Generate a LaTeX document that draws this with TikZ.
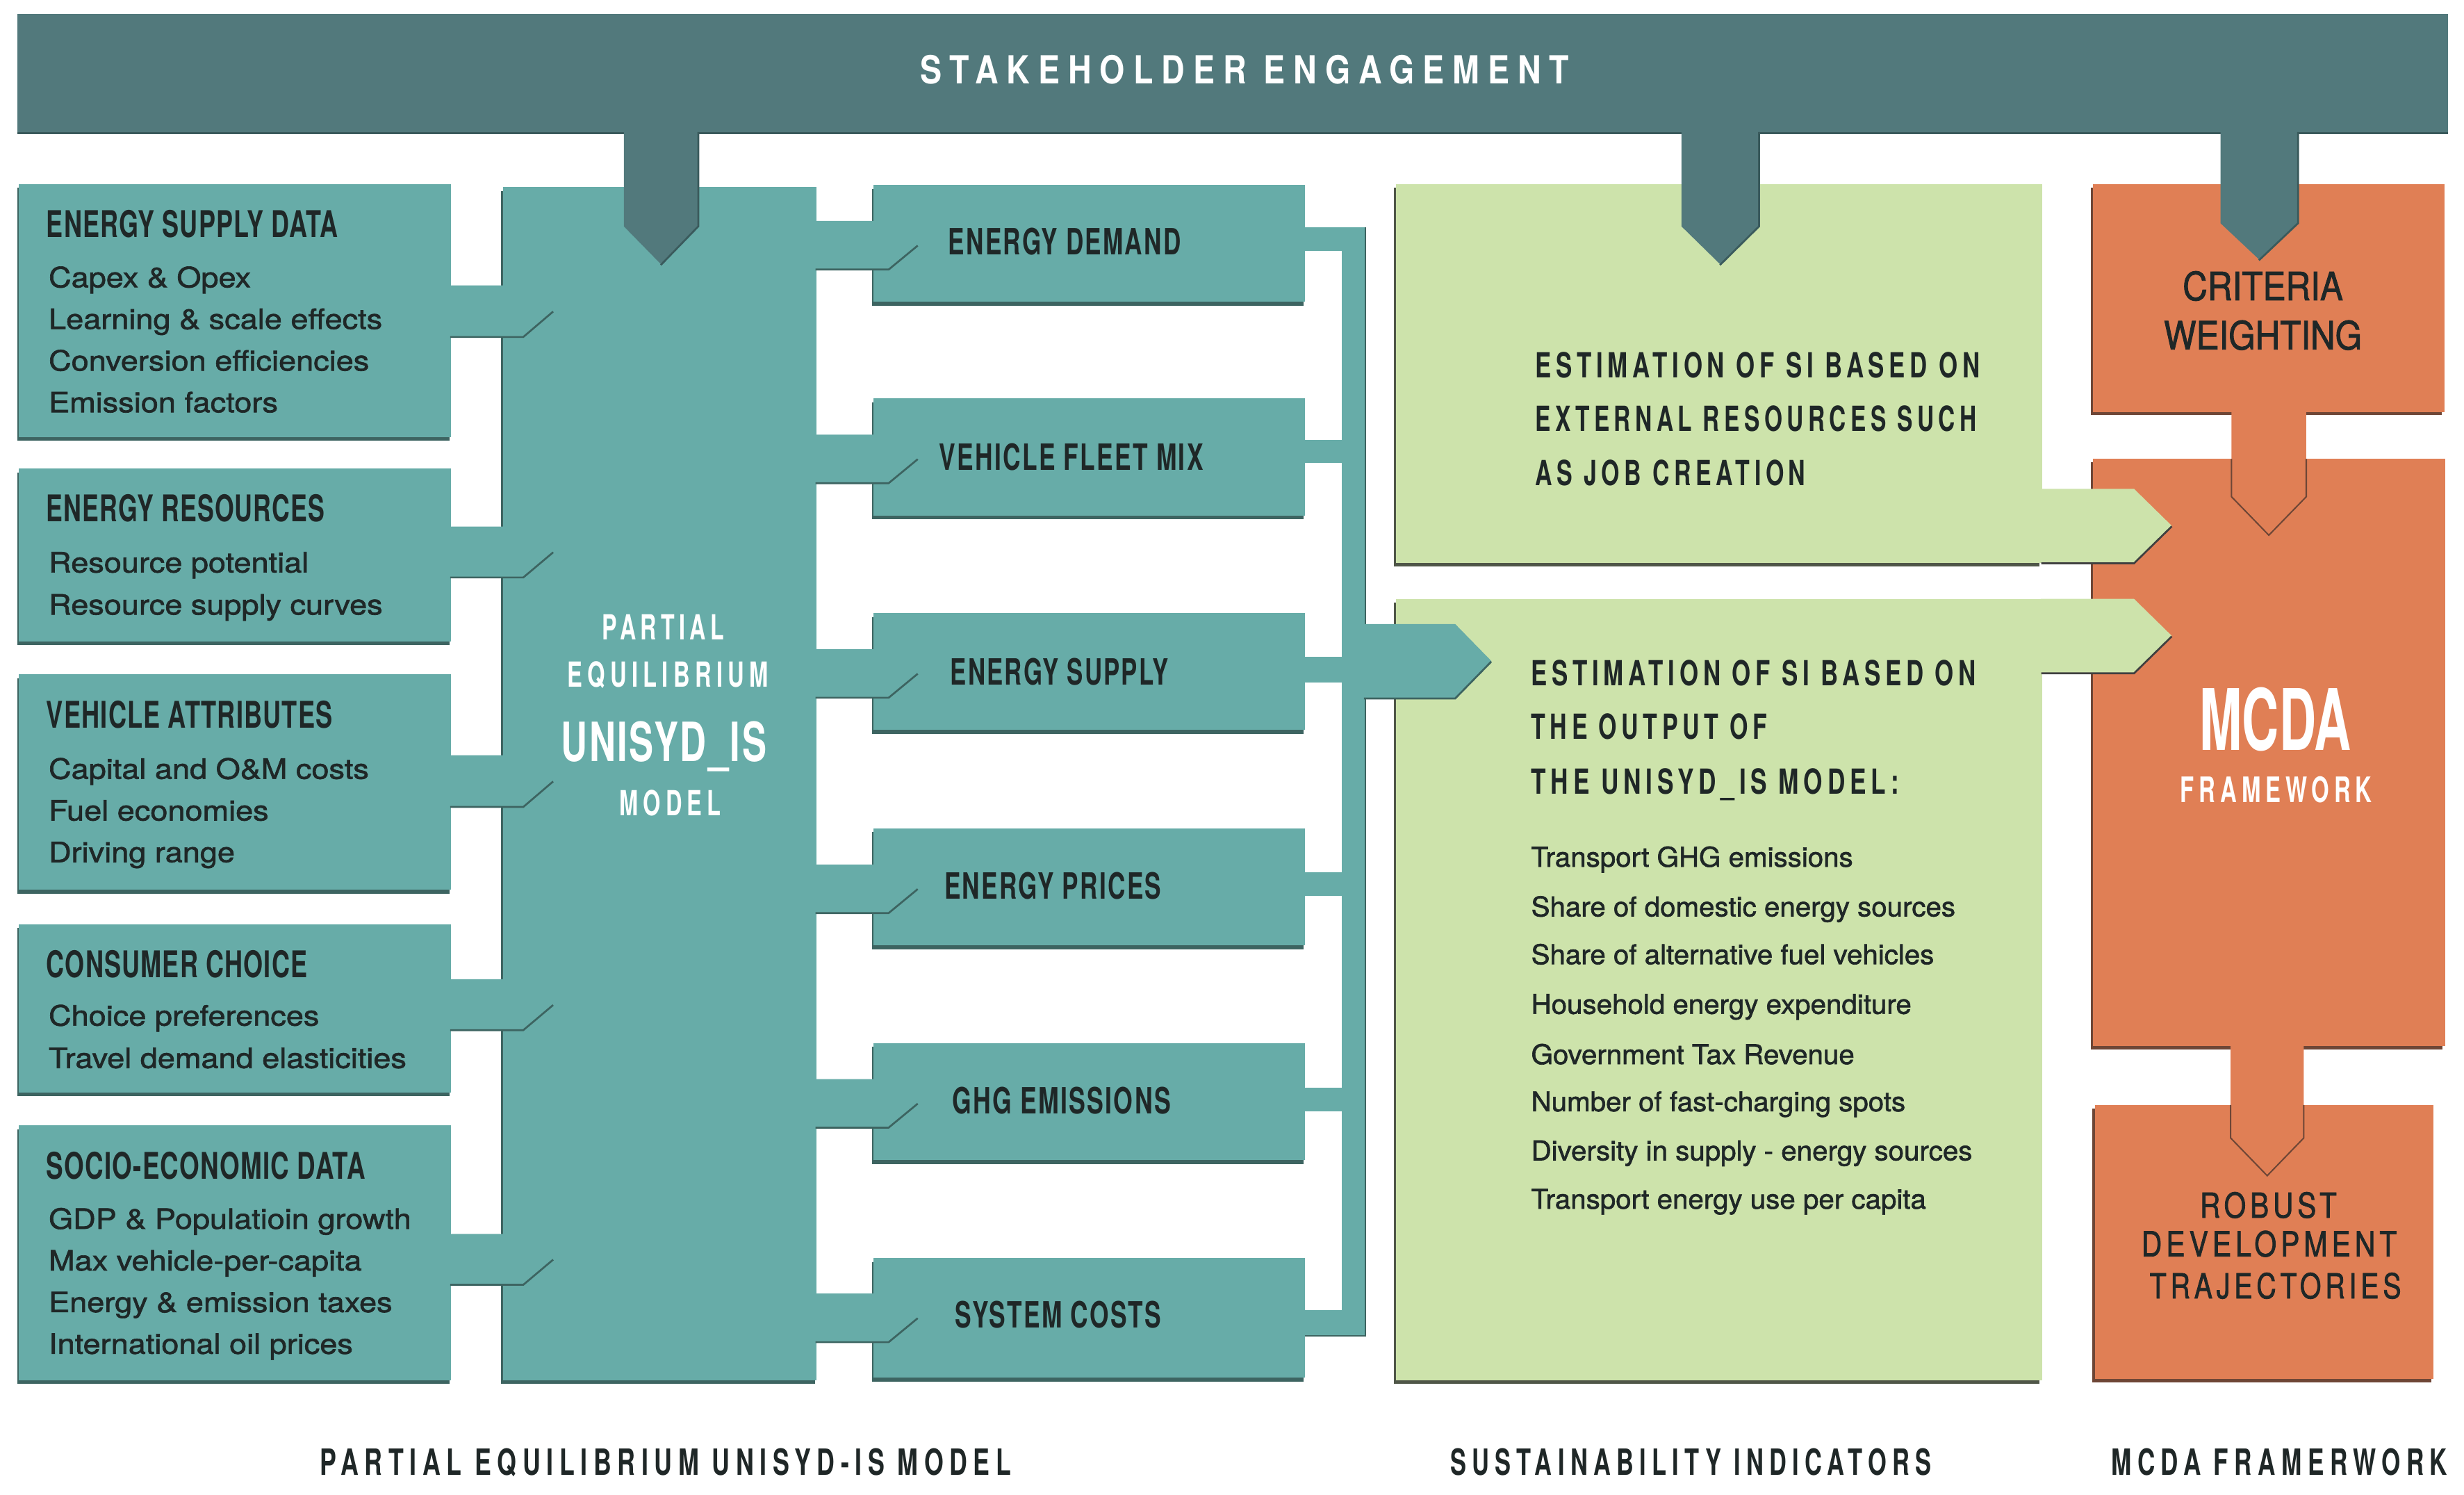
\documentclass[tikz,border=0pt]{standalone}
\usepackage{fontspec}
\setmainfont{TeX Gyre Heros}
\newfontfamily\hdA{TeX Gyre Heros}[FakeStretch=0.62]
\newfontfamily\hdB{TeX Gyre Heros}[FakeStretch=0.58]
\newfontfamily\stA{TeX Gyre Heros}[FakeStretch=0.78]
\newfontfamily\rgA{TeX Gyre Heros}[FakeStretch=0.80, FakeBold=1.5]
\newfontfamily\rgB{TeX Gyre Heros}[FakeStretch=0.88, FakeBold=1.5]
\newfontfamily\itA{TeX Gyre Heros}[FakeStretch=1.12, FakeBold=1.6]
\newfontfamily\itB{TeX Gyre Heros}[FakeStretch=1.03, FakeBold=1.6]
\usetikzlibrary{shadows,calc}
\definecolor{slate}{HTML}{52797C}
\definecolor{slatesh}{HTML}{3A5A5C}
\definecolor{teal1}{HTML}{67ACA8}
\definecolor{tealsh}{HTML}{3D6461}
\definecolor{grn}{HTML}{CDE3AB}
\definecolor{grnsh}{HTML}{4F5648}
\definecolor{org}{HTML}{E07F55}
\definecolor{orgsh}{HTML}{6E4636}
\definecolor{ink}{HTML}{1F2727}
\newsavebox\fitbox
% fit a text box horizontally to a given width (in pt)
\newcommand\fitw[2]{\sbox\fitbox{#2}\pgfmathsetmacro\fitr{#1/\the\wd\fitbox}\scalebox{\fitr}[1]{\usebox\fitbox}}
% bold tracked heading: family, size, letterspace, text, width
\newcommand\TB[5]{\fitw{#5}{#1\bfseries\fontsize{#2}{#2}\selectfont\addfontfeatures{LetterSpace=#3}#4}}
% tracked, regular weight: family, size, letterspace, text, width
\newcommand\TR[5]{\fitw{#5}{#1\fontsize{#2}{#2}\selectfont\addfontfeatures{LetterSpace=#3}#4}}
\newcommand\Tn[3]{#1\fontsize{#2}{#2}\selectfont #3}
% horizontal fat arrow: fill, shadow, source anchor, target anchor, base offset, tip offset, ytop, ybot
\newcommand\rarrow[8]{%
  \pgfmathsetmacro\midy{(#7+#8)/2}%
  \fill[#1] ($(#3 |- 0,#7)+(-1,0)$) -- ($(#4 |- 0,#7)+(#5,0)$) -- ($(#4 |- 0,\midy)+(#6,0)$)
     -- ($(#4 |- 0,#8)+(#5,0)$) -- ($(#3 |- 0,#8)+(-1,0)$) -- cycle;
  \draw[#2, line width=1.2pt, line join=miter] ($(#3 |- 0,#8)+(-0.5,0.4)$) -- ($(#4 |- 0,#8)+(#5,0.4)$)
     -- ($(#4 |- 0,\midy)+(#6,0.4)$);}
% vertical fat arrow: fill, source anchor, x left, x right, y shoulder, y tip
\newcommand\darrow[6]{%
  \pgfmathsetmacro\midx{(#3+#4)/2}%
  \fill[#1] ($(#3,0 |- #2)+(0,-1)$) -- ($(#4,0 |- #2)+(0,-1)$) -- (#4,#5) -- (\midx,#6) -- (#3,#5) -- cycle;}
\tikzset{
  base/.style={rectangle, inner sep=0pt, outer sep=0pt, anchor=north west, draw=none},
  tbox/.style={base, fill=teal1, general shadow={fill=tealsh, shadow xshift=-1pt, shadow yshift=-2.5pt}},
  gbox/.style={base, fill=grn, general shadow={fill=grnsh, shadow xshift=-1.6pt, shadow yshift=-2.5pt}},
  obox/.style={base, fill=org, general shadow={fill=orgsh, shadow xshift=-1.6pt, shadow yshift=-2.2pt}},
  txt/.style={inner sep=0pt, outer sep=0pt, text=ink},
  wtxt/.style={inner sep=0pt, outer sep=0pt, text=white},
}
\begin{document}
\begin{tikzpicture}[x=1pt,y=-1pt]
\useasboundingbox (0,0) rectangle (1568,951);
\fill[white] (0,0) rectangle (1568,951);

% banner
\node[base, fill=slate, general shadow={fill=slatesh, shadow yshift=-1.2pt}, minimum width=1547pt, minimum height=75pt] (banner) at (11,9) {};

% left input boxes
\node[tbox, minimum width=275pt, minimum height=161pt] (lb1) at (12,117) {};
\node[tbox, minimum width=275pt, minimum height=110pt] (lb2) at (12,298) {};
\node[tbox, minimum width=275pt, minimum height=137pt] (lb3) at (12,429) {};
\node[tbox, minimum width=275pt, minimum height=107pt] (lb4) at (12,588) {};
\node[tbox, minimum width=275pt, minimum height=162pt] (lb5) at (12,716) {};
% central model
\node[tbox, minimum width=199.5pt, minimum height=759pt] (pe) at (320,119) {};
% model outputs
\node[tbox, minimum width=274.5pt, minimum height=74.5pt] (md1) at (556,117.6) {};
\node[tbox, minimum width=274.5pt, minimum height=74.5pt] (md2) at (556,253.5) {};
\node[tbox, minimum width=274.5pt, minimum height=74.5pt] (md3) at (556,390) {};
\node[tbox, minimum width=274.5pt, minimum height=74.5pt] (md4) at (556,527) {};
\node[tbox, minimum width=274.5pt, minimum height=74.5pt] (md5) at (556,663.5) {};
\node[tbox, minimum width=274.5pt, minimum height=76pt] (md6) at (556,800.5) {};
% sustainability indicators
\node[gbox, minimum width=411pt, minimum height=241pt] (g1) at (888.5,117) {};
\node[gbox, minimum width=411pt, minimum height=497pt] (g2) at (888.5,381) {};
% MCDA
\node[obox, minimum width=223.5pt, minimum height=145pt] (cw) at (1332,117) {};
\node[obox, minimum width=224pt, minimum height=373.6pt] (mc) at (1332,292) {};
\node[obox, minimum width=215.6pt, minimum height=174.5pt] (rb) at (1333,703) {};

% connectors: inputs -> model
\rarrow{teal1}{tealsh}{lb1.east}{pe.west}{13}{32}{181.6}{214}
\rarrow{teal1}{tealsh}{lb2.east}{pe.west}{13}{32}{335}{367}
\rarrow{teal1}{tealsh}{lb3.east}{pe.west}{13}{32}{480.5}{513}
\rarrow{teal1}{tealsh}{lb4.east}{pe.west}{13}{32}{623}{655}
\rarrow{teal1}{tealsh}{lb5.east}{pe.west}{13}{32}{785}{817}
% model -> outputs
\rarrow{teal1}{tealsh}{pe.east}{md1.west}{9.5}{28}{140.6}{171.1}
\rarrow{teal1}{tealsh}{pe.east}{md2.west}{9.5}{28}{276.5}{307}
\rarrow{teal1}{tealsh}{pe.east}{md3.west}{9.5}{28}{413}{443.5}
\rarrow{teal1}{tealsh}{pe.east}{md4.west}{9.5}{28}{550}{580.5}
\rarrow{teal1}{tealsh}{pe.east}{md5.west}{9.5}{28}{686.5}{717}
\rarrow{teal1}{tealsh}{pe.east}{md6.west}{9.5}{28}{823}{853.5}
% collecting bus
\node[base, fill=teal1, minimum width=14.4pt, minimum height=704.7pt] (bus) at (854,144.6) {};
\draw[tealsh, line width=0.8pt] ($(bus.north east)+(0.4,0)$) -- ($(bus.south east)+(0.4,0.4)$) -- ($(md6.east |- bus.south)+(0,0.4)$);
\fill[teal1] ($(md1.east |- 0,144.6)+(-1,0)$) rectangle ($(bus.west |- 0,159.6)+(1,0)$);
\fill[teal1] ($(md2.east |- 0,280)+(-1,0)$) rectangle ($(bus.west |- 0,294.5)+(1,0)$);
\fill[teal1] ($(md3.east |- 0,418)+(-1,0)$) rectangle ($(bus.west |- 0,434)+(1,0)$);
\fill[teal1] ($(md4.east |- 0,555)+(-1,0)$) rectangle ($(bus.west |- 0,570)+(1,0)$);
\fill[teal1] ($(md5.east |- 0,692)+(-1,0)$) rectangle ($(bus.west |- 0,707)+(1,0)$);
\fill[teal1] ($(md6.east |- 0,833.3)+(-1,0)$) rectangle ($(bus.west |- 0,849.3)+(1,0)$);
% bus -> SI estimation
\rarrow{teal1}{tealsh}{bus.east}{g2.west}{37.5}{60.5}{397}{444}
% SI -> MCDA
\rarrow{grn}{black!75}{g1.east}{mc.west}{26}{50}{311}{358}
\rarrow{grn}{black!75}{g2.east}{mc.west}{26}{50}{381}{428}
% criteria -> MCDA -> robust
\darrow{org}{cw.south}{1420}{1467.6}{316}{340.5}
\draw[orgsh, line width=0.9pt] (1420,0 |- mc.north) -- (1420,316) -- (1443.8,340.5) -- (1467.6,316) -- (1467.6,0 |- mc.north);
\darrow{org}{mc.south}{1419.5}{1466}{724}{748}
\draw[orgsh, line width=0.9pt] (1419.5,0 |- rb.north) -- (1419.5,724) -- (1442.75,748) -- (1466,724) -- (1466,0 |- rb.north);
% stakeholder tabs
\darrow{slate}{banner.south}{397}{444}{144}{168}
\draw[slatesh, line width=1.2pt] (444.4,0 |- banner.south) -- (444.4,144) -- (420.5,168.6);
\darrow{slate}{banner.south}{1070}{1119}{144}{168}
\draw[slatesh, line width=1.2pt] (1119.4,0 |- banner.south) -- (1119.4,144) -- (1094.5,168.6);
\darrow{slate}{banner.south}{1413}{1462}{142}{165}
\draw[slatesh, line width=1.2pt] (1462.4,0 |- banner.south) -- (1462.4,142) -- (1437.5,165.6);

% ---------- texts ----------
\node[wtxt, anchor=base] (tstake) at (792,53.5) {\TB\stA{24.6}{20}{STAKEHOLDER ENGAGEMENT}{413}};

\node[txt, anchor=base west] (h1) at (29.6,151) {\TB\hdA{23.4}{2}{ENERGY SUPPLY DATA}{185.7}};
\node[txt, anchor=base west] (i11) at (31,182.8) {\Tn\itA{17.8}{Capex \& Opex}};
\node[txt, anchor=base west] (i12) at (31,209.3) {\Tn\itA{17.8}{Learning \& scale effects}};
\node[txt, anchor=base west] (i13) at (31,235.8) {\Tn\itA{17.8}{Conversion efficiencies}};
\node[txt, anchor=base west] (i14) at (31,262.3) {\Tn\itA{17.8}{Emission factors}};

\node[txt, anchor=base west] (h2) at (29.6,332) {\TB\hdA{23.4}{2}{ENERGY RESOURCES}{177}};
\node[txt, anchor=base west] (i21) at (31,364.2) {\Tn\itA{17.8}{Resource potential}};
\node[txt, anchor=base west] (i22) at (31,391) {\Tn\itA{17.8}{Resource supply curves}};

\node[txt, anchor=base west] (h3) at (29.6,463) {\TB\hdA{23.4}{2}{VEHICLE ATTRIBUTES}{182}};
\node[txt, anchor=base west] (i31) at (31,495.5) {\Tn\itA{17.8}{Capital and O\&M costs}};
\node[txt, anchor=base west] (i32) at (31,522) {\Tn\itA{17.8}{Fuel economies}};
\node[txt, anchor=base west] (i33) at (31,548.5) {\Tn\itA{17.8}{Driving range}};

\node[txt, anchor=base west] (h4) at (29.6,622) {\TB\hdA{23.4}{2}{CONSUMER CHOICE}{166}};
\node[txt, anchor=base west] (i41) at (31,652.5) {\Tn\itA{17.8}{Choice preferences}};
\node[txt, anchor=base west] (i42) at (31,679.5) {\Tn\itA{17.8}{Travel demand elasticities}};

\node[txt, anchor=base west] (h5) at (29.6,750) {\TB\hdA{23.4}{2}{SOCIO-ECONOMIC DATA}{203}};
\node[txt, anchor=base west] (i51) at (31,781.8) {\Tn\itA{17.8}{GDP \& Populatioin growth}};
\node[txt, anchor=base west] (i52) at (31,808.3) {\Tn\itA{17.8}{Max vehicle-per-capita}};
\node[txt, anchor=base west] (i53) at (31,834.8) {\Tn\itA{17.8}{Energy \& emission taxes}};
\node[txt, anchor=base west] (i54) at (31,861.3) {\Tn\itA{17.8}{International oil prices}};

\node[wtxt, anchor=base] (p1) at (422,407) {\TB\hdA{22}{12}{PARTIAL}{77.4}};
\node[wtxt, anchor=base] (p2) at (425,437) {\TB\hdA{22}{14}{EQUILIBRIUM}{128.3}};
\node[wtxt, anchor=base] (p3) at (422.5,484.2) {\TB\hdA{34.4}{3}{UNISYD\_IS}{130.5}};
\node[wtxt, anchor=base] (p4) at (426.5,519) {\TB\hdA{22}{13}{MODEL}{64.2}};

\node[txt, anchor=base] (m1) at (677.5,162) {\TB\hdA{23}{4}{ENERGY DEMAND}{148}};
\node[txt, anchor=base] (m2) at (681.7,299) {\TB\hdA{23}{4}{VEHICLE FLEET MIX}{168}};
\node[txt, anchor=base] (m3) at (674.3,435.6) {\TB\hdA{23}{4}{ENERGY SUPPLY}{139}};
\node[txt, anchor=base] (m4) at (670,572) {\TB\hdA{23}{4}{ENERGY PRICES}{138}};
\node[txt, anchor=base] (m5) at (675.5,708.5) {\TB\hdA{23}{4}{GHG EMISSIONS}{139}};
\node[txt, anchor=base] (m6) at (673.5,845) {\TB\hdA{23}{4}{SYSTEM COSTS}{131}};

\node[txt, anchor=base west] (s1) at (977,240.2) {\TB\hdA{22}{12}{ESTIMATION OF SI BASED ON}{283}};
\node[txt, anchor=base west] (s2) at (977,274.5) {\TB\hdA{22}{12}{EXTERNAL RESOURCES SUCH}{281}};
\node[txt, anchor=base west] (s3) at (977,308.7) {\TB\hdA{22}{12}{AS JOB CREATION}{172}};

\node[txt, anchor=base west] (u1) at (974.4,436.3) {\TB\hdA{22}{12}{ESTIMATION OF SI BASED ON}{283}};
\node[txt, anchor=base west] (u2) at (974.4,470.2) {\TB\hdA{22}{12}{THE OUTPUT OF}{150}};
\node[txt, anchor=base west] (u3) at (974.4,505.1) {\TB\hdA{22}{12}{THE UNISYD\_IS MODEL:}{234}};
\node[txt, anchor=base west] (k1) at (974.4,551.4) {\Tn\itB{17.3}{Transport GHG emissions}};
\node[txt, anchor=base west] (k2) at (974.4,583) {\Tn\itB{17.3}{Share of domestic energy sources}};
\node[txt, anchor=base west] (k3) at (974.4,613.4) {\Tn\itB{17.3}{Share of alternative fuel vehicles}};
\node[txt, anchor=base west] (k4) at (974.4,645) {\Tn\itB{17.3}{Household energy expenditure}};
\node[txt, anchor=base west] (k5) at (974.4,677) {\Tn\itB{17.3}{Government Tax Revenue}};
\node[txt, anchor=base west] (k6) at (974.4,707) {\Tn\itB{17.3}{Number of fast-charging spots}};
\node[txt, anchor=base west] (k7) at (974.4,738.2) {\Tn\itB{17.3}{Diversity in supply - energy sources}};
\node[txt, anchor=base west] (k8) at (974.4,769) {\Tn\itB{17.3}{Transport energy use per capita}};

\node[txt, anchor=base] (c1) at (1440,191) {\TR\rgB{24.8}{0}{CRITERIA}{102}};
\node[txt, anchor=base] (c2) at (1440,222.3) {\TR\rgB{24.8}{0}{WEIGHTING}{126}};
\node[wtxt, anchor=base] (f1) at (1448,477.5) {\TB\hdB{54}{0}{MCDA}{96.5}};
\node[wtxt, anchor=base] (f2) at (1448.5,510.5) {\TB\hdA{22.3}{13}{FRAMEWORK}{122}};
\node[txt, anchor=base] (r1) at (1443.5,774.7) {\TR\rgA{21.9}{12}{ROBUST}{87}};
\node[txt, anchor=base] (r2) at (1444,799.3) {\TR\rgA{21.9}{12}{DEVELOPMENT}{162.5}};
\node[txt, anchor=base] (r3) at (1448,826) {\TR\rgA{21.9}{12}{TRAJECTORIES}{160}};

\node[txt, anchor=base] (b1) at (423.5,938.7) {\TB\hdA{23}{15}{PARTIAL EQUILIBRIUM UNISYD-IS MODEL}{440}};
\node[txt, anchor=base] (b2) at (1076,938.7) {\TB\hdA{23}{15}{SUSTAINABILITY INDICATORS}{306.3}};
\node[txt, anchor=base] (b3) at (1450.5,938.7) {\TB\hdA{23}{15}{MCDA FRAMERWORK}{214}};
\end{tikzpicture}
\end{document}
